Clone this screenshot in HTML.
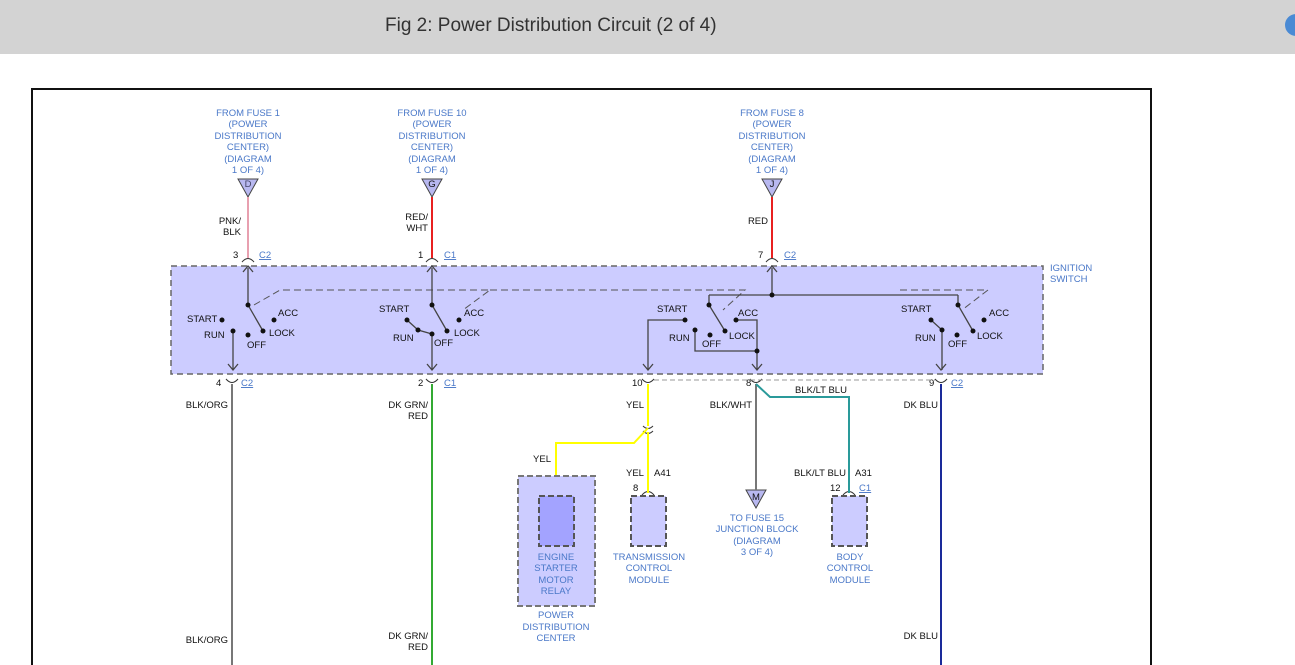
<!DOCTYPE html>
<html><head><style>
body{margin:0;width:1295px;height:665px;overflow:hidden;background:#fff;font-family:"Liberation Sans",sans-serif}
.hdr{position:absolute;left:0;top:0;width:1295px;height:54px;background:#d3d3d3}
.hdr span{position:absolute;left:385px;top:15px;font-size:19px;color:#333}
.dot{position:absolute;left:1285px;top:14px;width:22px;height:22px;border-radius:50%;background:#4a8ad4}
svg{position:absolute;left:0;top:0}
text{font-family:"Liberation Sans",sans-serif;font-size:9.5px}
.b{fill:#4a78c8}.k{fill:#111}
</style></head><body>
<div class="hdr"><span>Fig 2: Power Distribution Circuit (2 of 4)</span></div><div class="dot"></div>
<svg width="1295" height="665">
<rect x="32" y="89" width="1119" height="600" fill="none" stroke="#111" stroke-width="2"/>
<g class="b" text-anchor="middle">
<text x="248" y="116">FROM FUSE 1</text><text x="248" y="127">(POWER</text><text x="248" y="139">DISTRIBUTION</text><text x="248" y="150">CENTER)</text><text x="248" y="162">(DIAGRAM</text><text x="248" y="173">1 OF 4)</text>
<text x="432" y="116">FROM FUSE 10</text><text x="432" y="127">(POWER</text><text x="432" y="139">DISTRIBUTION</text><text x="432" y="150">CENTER)</text><text x="432" y="162">(DIAGRAM</text><text x="432" y="173">1 OF 4)</text>
<text x="772" y="116">FROM FUSE 8</text><text x="772" y="127">(POWER</text><text x="772" y="139">DISTRIBUTION</text><text x="772" y="150">CENTER)</text><text x="772" y="162">(DIAGRAM</text><text x="772" y="173">1 OF 4)</text>
</g>
<g fill="#b8b8f0" stroke="#444">
<polygon points="238,179 258,179 248,197"/><polygon points="422,179 442,179 432,197"/><polygon points="762,179 782,179 772,197"/>
<polygon points="746,490 766,490 756,508"/>
</g>
<g text-anchor="middle" class="k"><text x="248" y="187" fill="#446">D</text><text x="432" y="187">G</text><text x="772" y="187">J</text><text x="756" y="500">M</text></g>
<line x1="248" y1="197" x2="248" y2="258" stroke="#e8a0b0" stroke-width="2"/>
<line x1="432" y1="197" x2="432" y2="258" stroke="#e82020" stroke-width="2"/>
<line x1="772" y1="197" x2="772" y2="258" stroke="#e82020" stroke-width="2"/>
<g class="k" text-anchor="end">
<text x="241" y="224">PNK/</text><text x="241" y="235">BLK</text>
<text x="428" y="220">RED/</text><text x="428" y="231">WHT</text>
<text x="768" y="224">RED</text>
</g>
<rect x="171" y="266" width="872" height="108" fill="#ccccff" stroke="#666" stroke-dasharray="6,4" stroke-width="1.5"/>
<g class="b"><text x="1050" y="271">IGNITION</text><text x="1050" y="282">SWITCH</text></g>
<!-- connector arcs -->
<g fill="none" stroke="#333">
<path d="M242,262 Q248,255 254,262"/><path d="M426,262 Q432,255 438,262"/><path d="M766,262 Q772,255 778,262"/>
<path d="M226,379 Q232,386 238,379"/><path d="M426,379 Q432,386 438,379"/><path d="M642,379 Q648,386 654,379"/><path d="M750,379 Q756,386 762,379"/><path d="M935,379 Q941,386 947,379"/>
<path d="M550,495 Q556,488 562,495"/><path d="M642,495 Q648,488 654,495"/><path d="M843,495 Q849,488 855,495"/>
<path d="M643,426 Q648,431 653,426 M643,431 Q648,436 653,431"/>
</g>
<g class="k" font-size="9">
<text x="233" y="258">3</text><text x="418" y="258">1</text><text x="758" y="258">7</text>
<text x="216" y="386">4</text><text x="418" y="386">2</text><text x="632" y="386">10</text><text x="746" y="386">8</text><text x="929" y="386">9</text>
<text x="545" y="489">9</text><text x="633" y="491">8</text><text x="830" y="491">12</text>
</g>
<g fill="#4a78c8" text-decoration="underline"><text x="259" y="258">C2</text><text x="444" y="258">C1</text><text x="784" y="258">C2</text><text x="241" y="386">C2</text><text x="444" y="386">C1</text><text x="951" y="386">C2</text><text x="859" y="491">C1</text></g>
<!-- switch internals -->
<g stroke="#555" fill="none" stroke-dasharray="7,4"><path d="M254,305 L280,290 L490,290 L463,310"/><path d="M490,290 L640,290"/><path d="M640,290 L745,290 L723,310"/><path d="M900,290 L988,290 L962,310"/></g>
<g stroke="#444" fill="none" stroke-width="1.3">
<path d="M248,268 V305 L263,331"/><path d="M243,272 L248,266 L253,272"/>
<path d="M233,331 V370"/><path d="M228,364 L233,370 L238,364"/>
<path d="M432,268 V305 L447,331"/><path d="M427,272 L432,266 L437,272"/>
<path d="M407,320 L418,330 L432,334 V370"/><path d="M427,364 L432,370 L437,364"/>
<path d="M772,268 V295 M709,295 H958 M709,295 V305 L725,331 M958,295 V305 L973,331"/><path d="M767,272 L772,266 L777,272"/>
<path d="M685,320 H648 V370"/><path d="M643,364 L648,370 L653,364"/>
<path d="M736,320 H757 V370 M695,330 V351 H757"/><path d="M752,364 L757,370 L762,364"/>
<path d="M931,320 L942,330 V370"/><path d="M936,364 L941,370 L946,364"/>
</g>
<g fill="#111">
<circle cx="248" cy="305" r="2.5"/><circle cx="263" cy="331" r="2.5"/><circle cx="222" cy="320" r="2.5"/><circle cx="233" cy="331" r="2.5"/><circle cx="248" cy="335" r="2.5"/><circle cx="274" cy="320" r="2.5"/>
<circle cx="432" cy="305" r="2.5"/><circle cx="447" cy="331" r="2.5"/><circle cx="407" cy="320" r="2.5"/><circle cx="418" cy="330" r="2.5"/><circle cx="432" cy="334" r="2.5"/><circle cx="459" cy="320" r="2.5"/>
<circle cx="772" cy="295" r="2.5"/><circle cx="709" cy="305" r="2.5"/><circle cx="725" cy="331" r="2.5"/><circle cx="685" cy="320" r="2.5"/><circle cx="695" cy="330" r="2.5"/><circle cx="710" cy="335" r="2.5"/><circle cx="736" cy="320" r="2.5"/><circle cx="757" cy="351" r="2.5"/>
<circle cx="958" cy="305" r="2.5"/><circle cx="973" cy="331" r="2.5"/><circle cx="931" cy="320" r="2.5"/><circle cx="942" cy="330" r="2.5"/><circle cx="957" cy="335" r="2.5"/><circle cx="984" cy="320" r="2.5"/>
</g>
<g class="k" font-size="9">
<text x="187" y="322">START</text><text x="204" y="338">RUN</text><text x="247" y="348">OFF</text><text x="269" y="336">LOCK</text><text x="278" y="316">ACC</text>
<text x="379" y="312">START</text><text x="393" y="341">RUN</text><text x="434" y="346">OFF</text><text x="454" y="336">LOCK</text><text x="464" y="316">ACC</text>
<text x="657" y="312">START</text><text x="669" y="341">RUN</text><text x="702" y="347">OFF</text><text x="729" y="339">LOCK</text><text x="738" y="316">ACC</text>
<text x="901" y="312">START</text><text x="915" y="341">RUN</text><text x="948" y="347">OFF</text><text x="977" y="339">LOCK</text><text x="989" y="316">ACC</text>
</g>
<line x1="654" y1="380" x2="935" y2="380" stroke="#999" stroke-dasharray="5,3"/>
<!-- bottom wires -->
<line x1="232" y1="384" x2="232" y2="665" stroke="#777" stroke-width="2"/>
<line x1="432" y1="384" x2="432" y2="665" stroke="#3a3" stroke-width="2"/>
<line x1="941" y1="384" x2="941" y2="665" stroke="#1a2a9a" stroke-width="2"/>
<path d="M648,384 V426 M648,432 V493 M648,428 L634,443 H556 V493" stroke="#ff0" stroke-width="2" fill="none"/>
<line x1="756" y1="384" x2="756" y2="490" stroke="#777" stroke-width="2"/>
<path d="M756,384 L770,397 H849 V493" stroke="#2a9a9a" stroke-width="2" fill="none"/>
<g class="k" font-size="9" text-anchor="end">
<text x="228" y="408">BLK/ORG</text><text x="428" y="408">DK GRN/</text><text x="428" y="419">RED</text><text x="938" y="408">DK BLU</text>
<text x="644" y="408">YEL</text><text x="752" y="408">BLK/WHT</text><text x="551" y="462">YEL</text>
<text x="228" y="643">BLK/ORG</text><text x="428" y="639">DK GRN/</text><text x="428" y="650">RED</text><text x="938" y="639">DK BLU</text>
</g>
<g class="k" font-size="9"><text x="795" y="393">BLK/LT BLU</text><text x="626" y="476">YEL</text><text x="654" y="476">A41</text><text x="794" y="476">BLK/LT BLU</text><text x="855" y="476">A31</text></g>
<rect x="518" y="476" width="77" height="130" fill="#ccccff" stroke="#777" stroke-dasharray="6,3" stroke-width="2"/>
<rect x="539" y="496" width="35" height="50" fill="#a3a3ff" stroke="#555" stroke-dasharray="6,3" stroke-width="2"/>
<rect x="631" y="496" width="35" height="50" fill="#ccccff" stroke="#555" stroke-dasharray="6,3" stroke-width="2"/>
<rect x="832" y="496" width="35" height="50" fill="#ccccff" stroke="#555" stroke-dasharray="6,3" stroke-width="2"/>
<g class="b" text-anchor="middle">
<text x="556" y="560">ENGINE</text><text x="556" y="571">STARTER</text><text x="556" y="583">MOTOR</text><text x="556" y="594">RELAY</text>
<text x="556" y="618">POWER</text><text x="556" y="630">DISTRIBUTION</text><text x="556" y="641">CENTER</text>
<text x="649" y="560">TRANSMISSION</text><text x="649" y="571">CONTROL</text><text x="649" y="583">MODULE</text>
<text x="757" y="521">TO FUSE 15</text><text x="757" y="532">JUNCTION BLOCK</text><text x="757" y="544">(DIAGRAM</text><text x="757" y="555">3 OF 4)</text>
<text x="850" y="560">BODY</text><text x="850" y="571">CONTROL</text><text x="850" y="583">MODULE</text>
</g>
</svg>
</body></html>
